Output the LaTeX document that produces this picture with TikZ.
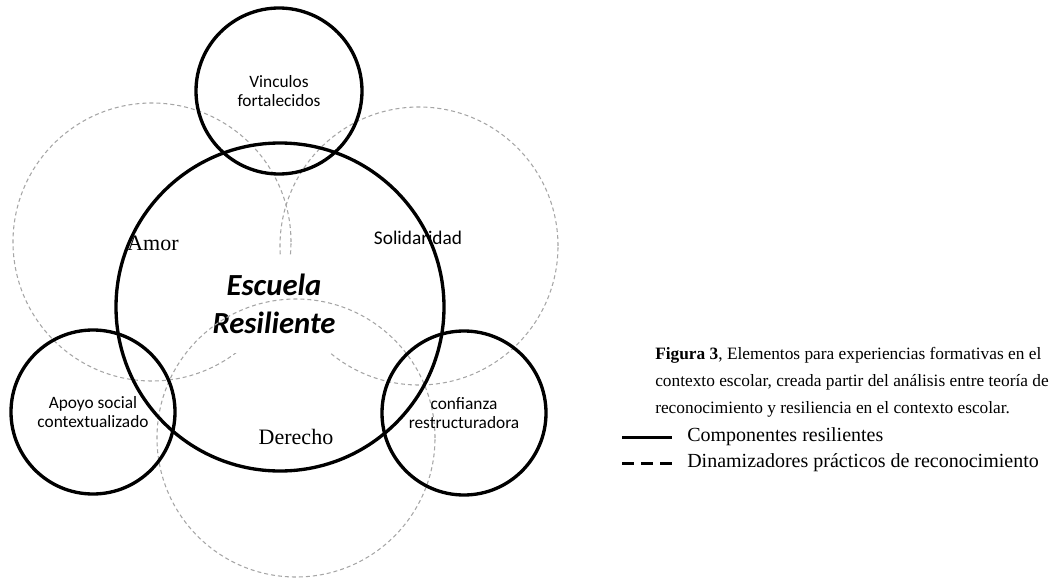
\documentclass[tikz,border=0pt]{standalone}
\usepackage{fontspec}
\setmainfont{Liberation Serif}
\newfontfamily\calibri{Carlito}
\usetikzlibrary{shapes,positioning,fit,calc}

\begin{document}
\begin{tikzpicture}[x=0.75pt, y=-0.75pt]

        \useasboundingbox (0,0) rectangle (1057,578);

        % Solid rings are the components, dashed rings
        % the practical dynamics around the school
        \tikzset{
            comp/.style={circle, draw, line width=2.5pt, align=center,
                font=\calibri\fontsize{13}{14}\selectfont},
            dyn/.style={circle, draw=gray!70, line width=0.8pt,
                dash pattern=on 3pt off 2.25pt, minimum size=208.5pt},
            word/.style={font=\fontsize{16.5}{18}\selectfont},
            key/.style={anchor=west, inner sep=0pt,
                font=\fontsize{15}{17}\selectfont}
        }

        % Dashed rings behind the centre label
        \begin{scope}
            \node[dyn] (D1) at (152, 242) {};
            \node[dyn] (D2) at (419, 246) {};
        \end{scope}

        \node[fill=white, minimum width=105pt, minimum height=73.5pt,
            align=center,
            font=\calibri\bfseries\itshape\fontsize{23}{28.5}\selectfont]
            (E) at (274, 304) {Escuela\\Resiliente};

        \node[dyn] (D3) at (296, 438) {};

        \node[word] (W1) at (153, 243) {Amor};
        \node[word, font=\calibri\fontsize{14.5}{16}\selectfont]
            (W2) at (418, 238) {Solidaridad};
        \node[word] (W3) at (296, 437) {Derecho};

        % Solid rings
        \begin{scope}
            \node[comp, minimum size=246pt] (S0) at (280, 307) {};
            \node[comp, minimum size=124.5pt] (S1) at (279, 91)
            {Vinculos\\fortalecidos};
            \node[comp, minimum size=123pt] (S2) at (93, 412)
            {Apoyo social\\contextualizado};
            \node[comp, minimum size=123pt] (S3) at (464, 413)
            {confianza\\restructuradora};
        \end{scope}

        % Caption and key
        \node[anchor=north west, align=left, inner sep=0pt,
            font=\fontsize{13}{20.25}\selectfont] (F) at (655, 347)
        {\textbf{Figura 3}, Elementos para experiencias formativas en el\\
         contexto escolar, creada partir del análisis entre teoría de\\
         reconocimiento y resiliencia en el contexto escolar.};

        \coordinate (K1) at (622, 437);
        \coordinate (K2) at (672, 437);
        \coordinate (K3) at (622, 463);
        \coordinate (K4) at (672, 463);

        \begin{scope}[line width=2.25pt]
            \draw (K1) -- (K2);
            \draw[dash pattern=on 9pt off 5.25pt] (K3) -- (K4);
        \end{scope}

        \node[key] (T1) at (687, 437) {Componentes resilientes};
        \node[key] (T2) at (687, 463) {Dinamizadores prácticos de reconocimiento};

\end{tikzpicture}
\end{document}
